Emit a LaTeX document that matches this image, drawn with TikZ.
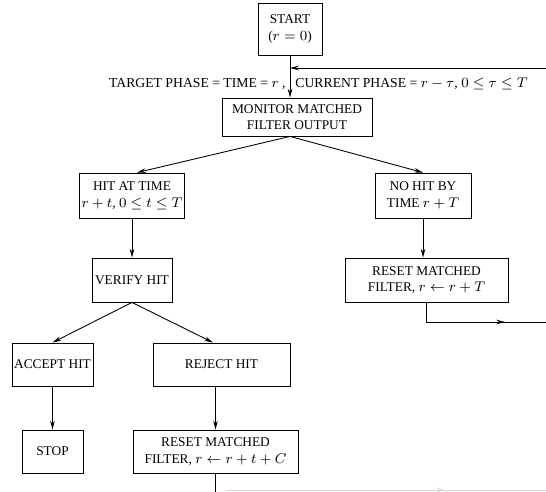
\documentclass[tikz,border=0pt]{standalone}
\usepackage{fontspec}
\setmainfont{Liberation Serif}
\usetikzlibrary{arrows.meta}

\begin{document}
\begin{tikzpicture}[>={Stealth[length=5pt,width=2.6pt]}, x=0.02cm, y=-0.02cm, line width=.5pt,
    box/.style={draw, align=center, inner sep=1pt, font=\fontsize{7.6}{9.5}\selectfont},
    lbl/.style={inner sep=0pt, font=\fontsize{7.8}{9.5}\selectfont}]
    \useasboundingbox (0,0) rectangle (546,492);
    % boxes
    \node[box, minimum width=1.28cm, minimum height=1.04cm] (start) at (290,29) {START\\($r=0$)};
    \node[box, minimum width=3cm, minimum height=.76cm] (monitor) at (297,117) {MONITOR MATCHED\\FILTER OUTPUT};
    \node[box, minimum width=2.04cm, minimum height=.9cm] (hit) at (132,195.5) {HIT AT TIME\\$r+t$, $0\le t\le T$};
    \node[box, minimum width=1.92cm, minimum height=.9cm] (nohit) at (423,195.5) {NO HIT BY\\TIME $r+T$};
    \node[box, minimum width=1.6cm, minimum height=.88cm] (verify) at (132,280) {VERIFY HIT};
    \node[box, minimum width=3.26cm, minimum height=.88cm] (resetT) at (426.5,280) {RESET MATCHED\\FILTER, $r\leftarrow r+T$};
    \node[box, minimum width=1.62cm, minimum height=.86cm] (accept) at (52.5,364.5) {ACCEPT HIT};
    \node[box, minimum width=2.74cm, minimum height=.86cm] (reject) at (221.5,364.5) {REJECT HIT};
    \node[box, minimum width=1.22cm, minimum height=.86cm] (stop) at (52.5,451.5) {STOP};
    \node[box, minimum width=3.3cm, minimum height=.86cm] (resetC) at (215.5,451.5) {RESET MATCHED\\FILTER, $r\leftarrow r+t+C$};
    % phase label
    \node[lbl, anchor=east] (lblL) at (286,84) {TARGET PHASE = TIME = $r$ ,};
    \node[lbl, anchor=west] (lblR) at (295,84) {CURRENT PHASE = $r-\tau$, $0\le\tau\le T$};
    % loose ends
    \coordinate (fb) at (546,68);
    \coordinate (outT) at (546,322);
    \coordinate (midT) at (505,322);
    \coordinate (outC) at (215.5,492);
    \coordinate (faint) at (546,490);
    \coordinate (faintmid) at (445,490);
    % connectors
    \draw[->] (start.south) -- (start.south |- monitor.north);
    \draw[->] (fb) -- (fb -| start.south);
    \draw[->] (start.south |- monitor.south) -- ([xshift=.1cm]hit.north);
    \draw[->] (start.south |- monitor.south) -- (nohit.north);
    \draw[->] (hit.south) -- (verify.north);
    \draw[->] (nohit.south) -- (nohit.south |- resetT.north);
    \draw[->] (verify.south) -- (accept.north);
    \draw[->] (verify.south) -- ([xshift=-.17cm]reject.north);
    \draw[->] (accept.south) -- (stop.north);
    \draw[->] (resetC.north |- reject.south) -- (resetC.north);
    \draw (resetT.south) |- (outT);
    \draw[->] (resetT.south |- outT) -- (midT);
    \draw (resetC.south) -- (outC);
    \draw[gray!30, line width=.4pt] (outC -| resetC.south) ++(10,-2) -- (faint);
    \draw[->, gray!30, line width=.4pt] (outC) ++(10,-2) -- (faintmid);
\end{tikzpicture}
\end{document}
